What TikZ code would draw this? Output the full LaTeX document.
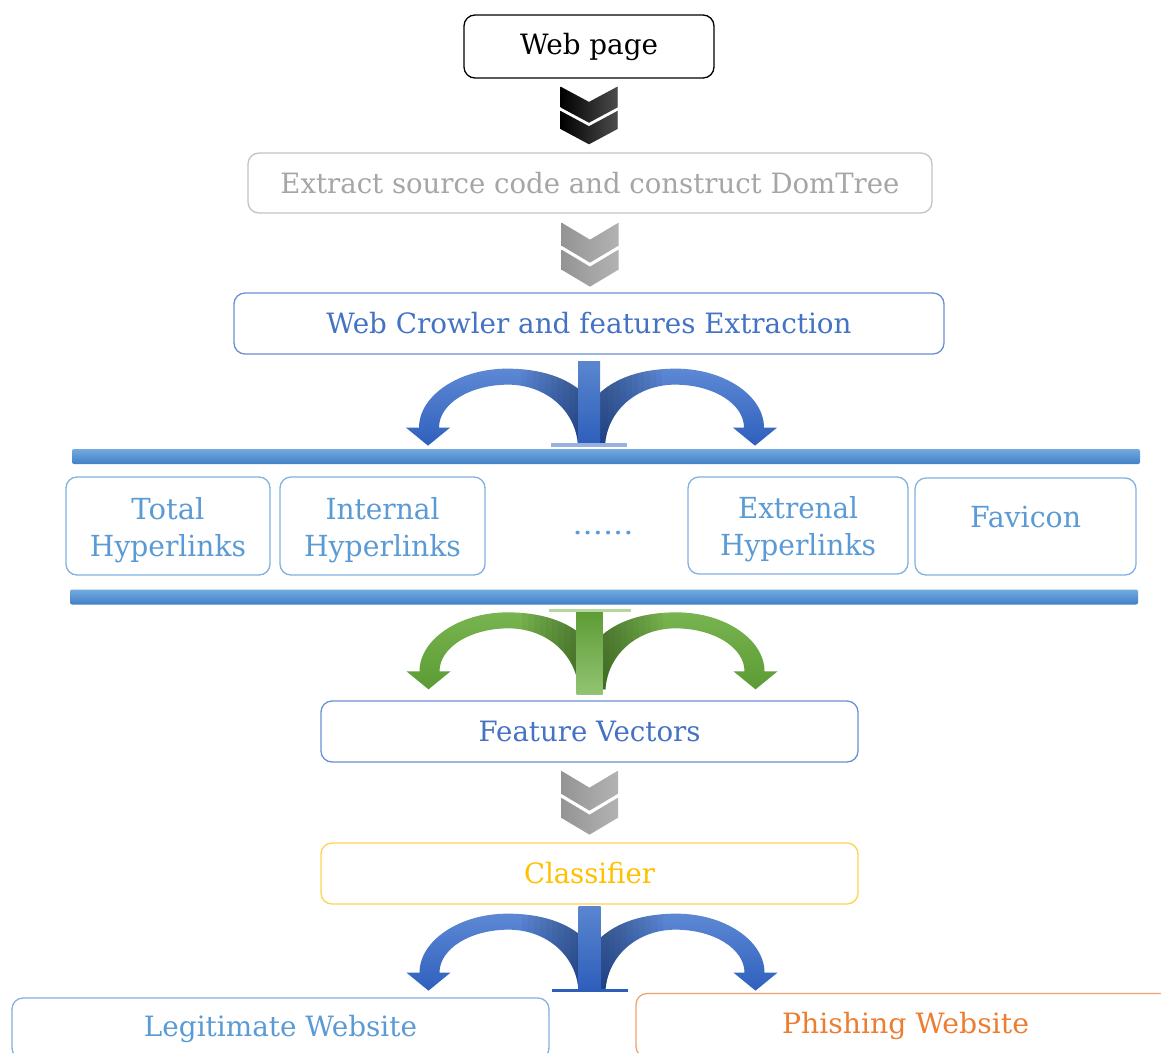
\documentclass[tikz,border=0pt]{standalone}
\usepackage{fontspec}
\setmainfont{DejaVu Serif}
\usepackage{graphicx}
\usetikzlibrary{calc}

\definecolor{cwblue}{HTML}{4472C4}
\definecolor{cwbord}{HTML}{6A8FD3}
\definecolor{lblue}{HTML}{5B9BD5}
\definecolor{lbord}{HTML}{82B1E3}
\definecolor{gold}{HTML}{FFC000}
\definecolor{goldb}{HTML}{FFD34D}
\definecolor{orng}{HTML}{ED7D31}
\definecolor{orbord}{HTML}{F2A070}
\definecolor{gtext}{HTML}{A6A6A6}
\definecolor{gbord}{HTML}{C4C4C4}
\definecolor{bartop}{HTML}{74AAE0}
\definecolor{barbot}{HTML}{3F80C6}
\definecolor{atop}{HTML}{5D88D4}
\definecolor{abot}{HTML}{2F60BD}
\definecolor{stop}{HTML}{5A86D0}
\definecolor{sbot}{HTML}{2D5EBA}
\definecolor{gtop}{HTML}{78B450}
\definecolor{gbot}{HTML}{5C9B33}

% stretch a line of text horizontally to a given width (pt), keeping its height
\newcommand\fitto[2]{\resizebox{#1pt}{\height}{#2}}

% pair of stacked chevrons, #1 = top centre, #2/#3 = left/right shade, #4 = vertical scale
\newcommand\chevrons[4]{%
  \begin{scope}[shift={(#1)}, yscale=#4]
    \shade[left color=#2, right color=#3] (-28.5,0) -- (0,17) -- (28.5,0) -- (28.5,23) -- (0,40) -- (-28.5,23) -- cycle;
    \shade[left color=#2, right color=#3] (-28.5,27) -- (0,44) -- (28.5,27) -- (28.5,47) -- (0,64) -- (-28.5,47) -- cycle;
  \end{scope}}

% one curved branch of a split arrow (left side, tip at the origin level);
% its inner end runs under the stem
\newcommand\branchpath{%
  (-5,-52) .. controls (-22,-68) and (-48,-77) .. (-82,-77)
  .. controls (-130,-77) and (-170,-50) .. (-170,-18)
  -- (-183,-18) -- (-161,0) -- (-139,-18) -- (-150,-18)
  .. controls (-150,-42) and (-119,-61) .. (-81,-61)
  .. controls (-43,-61) and (-13,-35) .. (-11,0) -- (-5,0) -- cycle}

% a branch with its shaded body and the darker fold near the stem
\newcommand\branch[2]{%
  \shade[top color=#1, bottom color=#2] \branchpath;
  \begin{scope}
    \clip \branchpath;
    \foreach \i in {0,...,9} {
      \fill[black, opacity=0.03] (-68+6*\i,-90) rectangle (-4,5);
    }
  \end{scope}}

% split arrow: #1 origin (stem centre at tip level), #2/#3 branch shade top/bottom
\newcommand\splitarrow[3]{%
  \begin{scope}[shift={(#1)}]
    \branch{#2}{#3}
    \begin{scope}[xscale=-1, shift={(-5,0)}]
      \branch{#2}{#3}
    \end{scope}
  \end{scope}}

\tikzset{
  x=1pt, y=-1pt,
  box/.style={draw, rounded corners=11pt, line width=1.3pt, inner sep=0pt,
    font=\fontsize{28}{34}\selectfont},
  hbox/.style={box, draw=lbord},
  htext/.style={text=lblue, align=center, inner sep=0pt,
    font=\fontsize{29}{37}\selectfont},
  bar/.style={rounded corners=2pt, top color=bartop, bottom color=barbot,
    inner sep=0pt, minimum height=15},
}

\begin{document}
\begin{tikzpicture}
\useasboundingbox (0,0) rectangle (1161,1052);
\clip (0,0) rectangle (1161,1052);
\fill[white] (0,0) rectangle (1161,1052);

% ---- process boxes
\node[box, draw=black, text=black, minimum width=250, minimum height=63] (web) at (589,46.5) {\fitto{138}{Web page}};
\node[box, draw=gbord, text=gtext, minimum width=684, minimum height=60] (extract) at (590,183) {\fitto{619}{Extract source code and construct DomTree}};
\node[box, draw=cwbord, text=cwblue, minimum width=710, minimum height=61] (crowler) at (589,323.5) {\fitto{525}{Web Crowler and features Extraction}};

% ---- feature bars
\node[bar, minimum width=1068] (bar1) at (606,456.5) {};
\node[bar, minimum width=1068] (bar2) at (604,597) {};

% ---- feature boxes
\node[hbox, minimum width=204, minimum height=98] (total) at (168,526) {};
\node[htext] (totalt) at ($(total.center)+(0,4)$) {\fitto{73}{Total}\\\fitto{156}{Hyperlinks}};
\node[hbox, minimum width=205, minimum height=98] (internal) at (382.5,526) {};
\node[htext] (internalt) at ($(internal.center)+(0,4)$) {\fitto{114}{Internal}\\\fitto{157}{Hyperlinks}};
\node[htext] (dots) at (603,533) {\fitto{61}{......}};
\node[hbox, minimum width=220, minimum height=97] (extrenal) at (798,525.5) {};
\node[htext] (extrenalt) at ($(extrenal.center)+(0,4)$) {\fitto{120}{Extrenal}\\\fitto{156}{Hyperlinks}};
\node[hbox, minimum width=221, minimum height=97] (favicon) at (1025.5,526.5) {};
\node[htext] (favicont) at ($(favicon.center)+(0,-9)$) {\fitto{111}{Favicon}};

% ---- classification
\node[box, draw=cwbord, text=cwblue, minimum width=537, minimum height=61] (feature) at (589.5,731.5) {\fitto{222}{Feature Vectors}};
\node[box, draw=goldb, text=gold, minimum width=537, minimum height=61] (classifier) at (589.5,873.5) {\fitto{131}{Classifier}};
\node[box, draw=lbord, text=lblue, minimum width=537, minimum height=61] (legit) at (280.5,1028.5) {\fitto{273}{Legitimate Website}};
\node[box, draw=orbord, text=orng, minimum width=539, minimum height=64] (phish) at (905.5,1025.5) {\fitto{247}{Phishing Website}};

% ---- chevron connectors
\coordinate (c1) at ($(web.south)+(0,8)$);
\coordinate (c2) at ($(extract.south)+(0,9)$);
\coordinate (c3) at ($(feature.south)+(0,8)$);
\begin{scope}[shift={(2,4)}]
  \chevrons{c1}{black!30}{black!30}{0.9}
\end{scope}
\chevrons{c1}{black}{black!70}{0.9}
\chevrons{c2}{black!42}{black!30}{1}
\chevrons{c3}{black!42}{black!30}{1}

% ---- split arrows
\coordinate (s1) at ($(crowler.south)+(0,91)$);
\coordinate (s2) at ($(feature.north)+(0,-11)$);
\coordinate (s3) at ($(classifier.south)+(0,86)$);

% crawler -> features
\splitarrow{s1}{atop}{abot}
\begin{scope}[shift={(s1)}]
  \shade[top color=stop, bottom color=sbot] (-11,-84) rectangle (11,0);
  \fill[cwbord!70] (-38,-3) rectangle (38,1);
\end{scope}

% features -> vectors
\splitarrow{s2}{gtop}{gbot}
\begin{scope}[shift={(s2)}]
  \shade[top color=gbot, bottom color=gtop!80] (-13,-80) rectangle (13,5);
  \fill[gtop!55] (-41,-80) rectangle (41,-77);
\end{scope}

% classifier -> results
\splitarrow{s3}{atop}{abot}
\begin{scope}[shift={(s3)}]
  \shade[top color=stop, bottom color=sbot] (-11,-84) rectangle (11,0);
  \fill[sbot] (-38,-2) rectangle (38,1);
\end{scope}
\end{tikzpicture}
\end{document}
